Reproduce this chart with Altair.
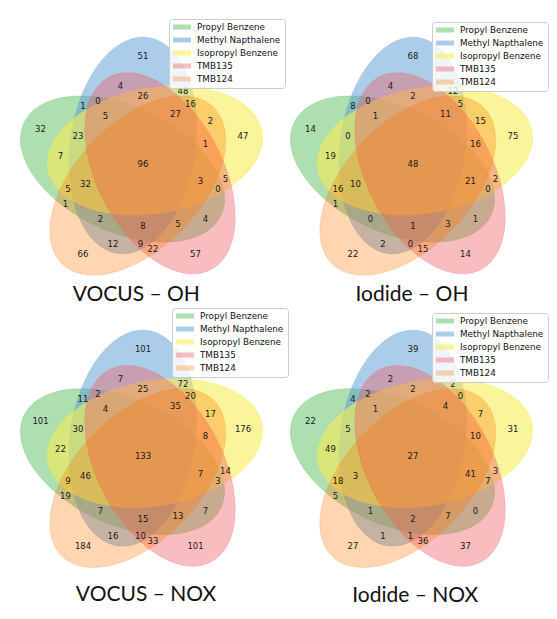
import numpy as np
import pandas as pd
import altair as alt

# ---------------- data ----------------
set_names = ["Propyl Benzene", "Methyl Napthalene", "Isopropyl Benzene", "TMB135", "TMB124"]
set_colors = ["rgba(92,192,98,0.5)", "rgba(90,155,212,0.5)", "rgba(246,236,86,0.6)",
              "rgba(241,90,96,0.4)", "rgba(255,117,0,0.3)"]

panel_titles = ["VOCUS – OH", "Iodide – OH", "VOCUS – NOX", "Iodide – NOX"]

# region membership key (Propyl, Methyl, Isopropyl, TMB135, TMB124)
region_keys = ["00001", "00010", "00011", "00100", "00101", "00110", "00111",
               "01000", "01001", "01010", "01011", "01100", "01101", "01110", "01111",
               "10000", "10001", "10010", "10011", "10100", "10101", "10110", "10111",
               "11000", "11001", "11010", "11011", "11100", "11101", "11110", "11111"]

vocus_oh = [66, 57, 22, 47, 2, 5, 1, 51, 12, 4, 9, 48, 16, 26, 27,
            32, 1, 4, 5, 7, 5, 0, 3, 1, 2, 0, 8, 23, 32, 5, 96]
iodide_oh = [22, 14, 15, 75, 15, 2, 16, 68, 2, 4, 0, 12, 5, 2, 11,
             14, 1, 1, 3, 19, 16, 0, 21, 8, 0, 0, 1, 0, 10, 1, 48]
vocus_nox = [184, 101, 33, 176, 17, 14, 8, 101, 16, 7, 10, 72, 20, 25, 35,
             101, 19, 7, 13, 22, 9, 3, 7, 11, 7, 2, 15, 30, 46, 4, 133]
iodide_nox = [27, 37, 36, 31, 7, 3, 10, 39, 1, 2, 1, 2, 0, 2, 4,
              22, 5, 0, 7, 49, 18, 7, 41, 4, 1, 2, 2, 5, 3, 1, 27]
panel_counts = [vocus_oh, iodide_oh, vocus_nox, iodide_nox]

# ---------------- layout (5-set Venn geometry, unit square) ----------------
ELL_W, ELL_H = 0.87, 0.50
ELL_GEOM = [(0.428, 0.449, 155.0), (0.469, 0.543, 82.0), (0.558, 0.523, 10.0),
            (0.578, 0.432, 118.0), (0.489, 0.383, 46.0)]
LABEL_XY = [(0.27, 0.11), (0.72, 0.11), (0.55, 0.13), (0.91, 0.58), (0.78, 0.64), (0.84, 0.41), (0.76, 0.55),
            (0.51, 0.90), (0.39, 0.15), (0.42, 0.78), (0.50, 0.15), (0.67, 0.76), (0.70, 0.71), (0.51, 0.74),
            (0.64, 0.67), (0.10, 0.61), (0.20, 0.31), (0.76, 0.25), (0.65, 0.23), (0.18, 0.50), (0.21, 0.37),
            (0.81, 0.37), (0.74, 0.40), (0.27, 0.70), (0.34, 0.25), (0.33, 0.72), (0.51, 0.22), (0.25, 0.58),
            (0.28, 0.39), (0.36, 0.66), (0.51, 0.47)]
TITLE_XY = [(0.483, -0.056), (0.506, -0.056), (0.522, -0.084), (0.519, -0.090)]
LEGEND_XY = [(161, 11), (154, 14), (164, 7), (154, 12)]

K = 250.0
X_DOM = (-0.03, 1.05)
Y_DOMS = [(-0.078, 1.092), (-0.125, 1.092)]


def ellipse_frame():
    rows = []
    a, b = ELL_W / 2, ELL_H / 2
    for name, (cx, cy, ang) in zip(set_names, ELL_GEOM):
        th = np.deg2rad(ang)
        s, c = np.sin(th), np.cos(th)
        xmax = np.sqrt(a * a * c * c + b * b * s * s)
        X = xmax * np.cos(np.linspace(np.pi, 0, 241))
        A = s * s / a ** 2 + c * c / b ** 2
        B = 2 * X * s * c * (1 / a ** 2 - 1 / b ** 2)
        C = X * X * (c * c / a ** 2 + s * s / b ** 2) - 1
        disc = np.sqrt(np.clip(B * B - 4 * A * C, 0, None))
        ylo = (-B - disc) / (2 * A)
        yhi = (-B + disc) / (2 * A)
        for xv, lo, hi in zip(X, ylo, yhi):
            rows.append({"grp": name, "x": cx + xv, "ylo": cy + lo, "yhi": cy + hi})
    return pd.DataFrame(rows)


ell_df = ellipse_frame()


def panel(i):
    ydom = Y_DOMS[i // 2]
    w = round(K * (X_DOM[1] - X_DOM[0]))
    h = round(K * (ydom[1] - ydom[0]))
    xs = alt.Scale(domain=list(X_DOM), nice=False, zero=False)
    ys = alt.Scale(domain=list(ydom), nice=False, zero=False)
    cscale = alt.Scale(domain=set_names, range=set_colors)
    legend = alt.Legend(
        title=None, orient="none", legendX=LEGEND_XY[i][0], legendY=LEGEND_XY[i][1],
        symbolType="M-1,-0.28L1,-0.28L1,0.28L-1,0.28Z", symbolSize=324,
        symbolStrokeWidth=0, symbolOpacity=1,
        labelFont="DejaVu Sans", labelFontSize=8.8, labelColor="#111111", labelOffset=6,
        fillColor="rgba(255,255,255,0.8)", strokeColor="#cccccc", cornerRadius=3,
        padding=4, rowPadding=4, clipHeight=8,
    )
    layers = []
    for name in set_names:
        layers.append(
            alt.Chart(ell_df).transform_filter(alt.datum.grp == name)
            .mark_area(strokeWidth=0.6)
            .encode(
                x=alt.X("x:Q", scale=xs, axis=None),
                y=alt.Y("ylo:Q", scale=ys, axis=None, stack=None),
                y2="yhi:Q",
                fill=alt.Fill("grp:N", scale=cscale, legend=legend),
                stroke=alt.Stroke("grp:N", scale=cscale, legend=None),
            )
        )
    lab_df = pd.DataFrame({
        "x": [p[0] for p in LABEL_XY],
        "y": [p[1] for p in LABEL_XY],
        "key": region_keys,
        "n": [str(v) for v in panel_counts[i]],
    })
    labels = alt.Chart(lab_df).mark_text(font="DejaVu Sans", fontSize=8.5, color="#1a1a1a").encode(
        x=alt.X("x:Q", scale=xs, axis=None),
        y=alt.Y("y:Q", scale=ys, axis=None),
        text="n:N",
    )
    t_df = pd.DataFrame({"x": [TITLE_XY[i][0]], "y": [TITLE_XY[i][1]], "t": [panel_titles[i]]})
    title = alt.Chart(t_df).mark_text(font="Lato", fontSize=21, color="#111111").encode(
        x=alt.X("x:Q", scale=xs, axis=None),
        y=alt.Y("y:Q", scale=ys, axis=None),
        text="t:N",
    )
    return alt.layer(*layers, labels, title).properties(width=w, height=h)


chart = (
    alt.concat(*[panel(i) for i in range(4)], columns=2, spacing=0, bounds="flush")
    .resolve_scale(x="independent", y="independent", fill="independent", stroke="independent")
    .resolve_legend(fill="independent", stroke="independent")
    .configure_view(strokeWidth=0)
    .properties(padding={"left": 0, "top": 0, "right": 0, "bottom": 0})
)

chart.save("out.html", embed_options={"renderer": "svg", "actions": False})
